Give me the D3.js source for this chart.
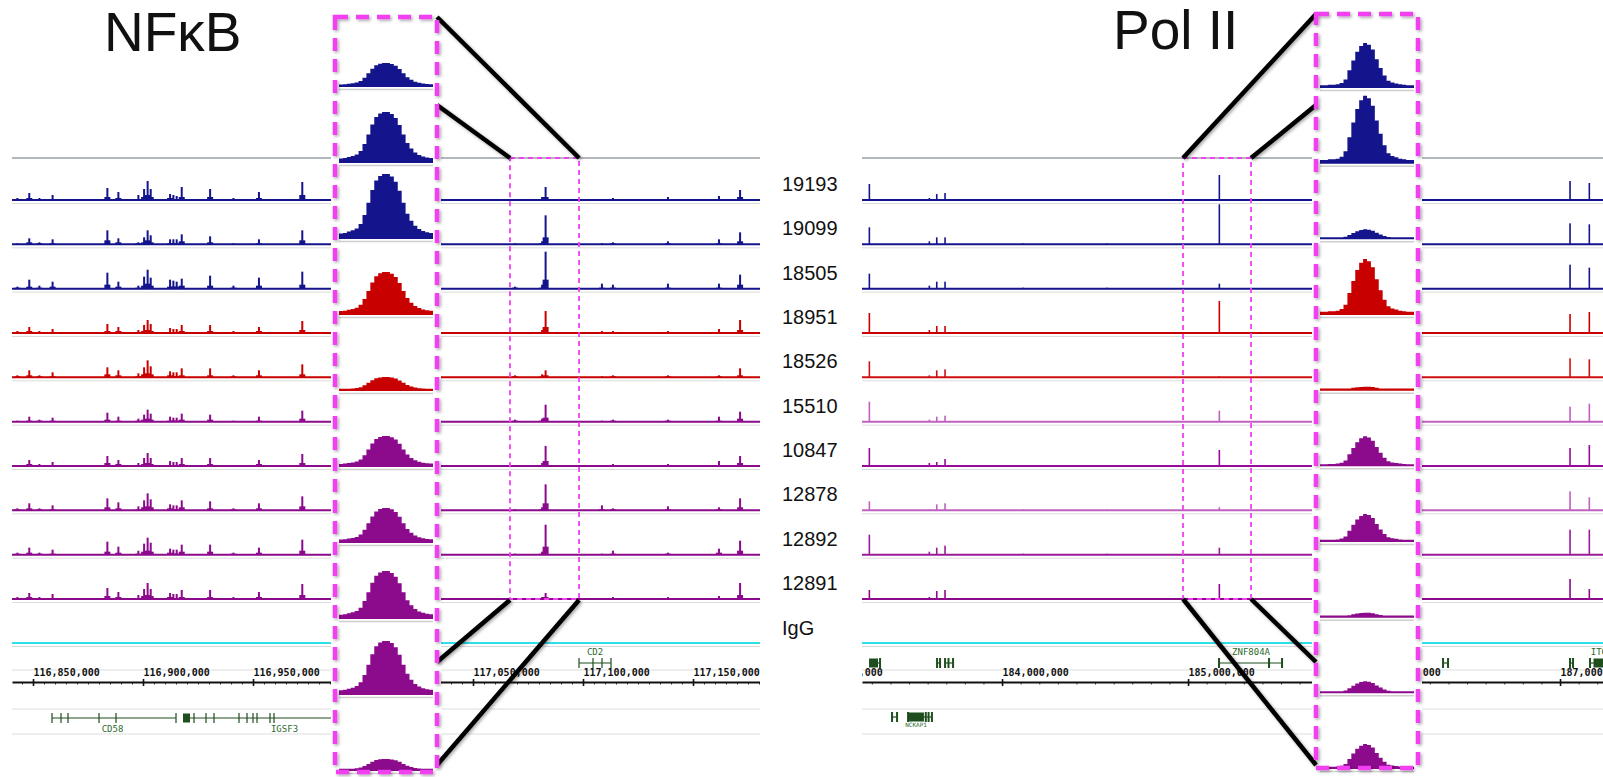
<!DOCTYPE html>
<html>
<head>
<meta charset="utf-8">
<script src="https://cdn.jsdelivr.net/npm/d3@7"></script>
<style>
  body { margin: 0; background: #fff; }
  svg { display: block; }
</style>
</head>
<body>
<svg id="fig" width="1603" height="777"></svg>
<script>
// ---- data ----
var tracks = ["19193", "19099", "18505", "18951", "18526", "15510", "10847", "12878", "12892", "12891"];
var trackColors = ["#14148c", "#14148c", "#14148c", "#c80000", "#c80000", "#8c0a8c", "#8c0a8c", "#8c0a8c", "#8c0a8c", "#8c0a8c"];
var pol2Colors = ["#14148c", "#14148c", "#14148c", "#c80000", "#d01010", "#c060c0", "#9a0a9a", "#c060c0", "#9a1a9a", "#8c0a8c"];

// NFkB window, peak positions (bp) and heights per sample
var nfkbPos = [116842900, 116848300, 116852900, 116858900, 116883800, 116888800, 116897900, 116900500,
  116902100, 116903500, 116912300, 116913800, 116915300, 116917600, 116930500, 116941100, 116952700,
  116972400, 117069100, 117081400, 117083000, 117108600, 117113600, 117138600, 117161800, 117171400];
var nfkbHeights = [
  [2, 7, 2, 5, 12, 8, 5, 11, 19, 11, 6, 5, 4, 13, 11, 2, 8, 18, 1, 3, 13, 1, 2, 3, 4, 10],
  [1, 6, 2, 5, 14, 6, 2, 7, 14, 9, 5, 5, 5, 10, 8, 1, 5, 14, 1, 3, 29, 1, 2, 3, 5, 12],
  [2, 9, 3, 7, 16, 7, 3, 12, 19, 11, 9, 8, 7, 10, 13, 3, 11, 17, 2, 4, 37, 5, 4, 5, 5, 14],
  [2, 6, 2, 4, 9, 6, 3, 8, 13, 9, 5, 4, 4, 8, 8, 2, 6, 12, 1, 3, 22, 2, 2, 2, 4, 13],
  [2, 7, 2, 5, 10, 7, 4, 10, 17, 11, 6, 5, 5, 9, 9, 2, 7, 13, 2, 3, 7, 1, 2, 2, 2, 9],
  [1, 5, 2, 4, 9, 5, 3, 7, 12, 8, 5, 4, 4, 8, 7, 1, 5, 11, 2, 3, 17, 1, 2, 2, 5, 10],
  [1, 6, 2, 4, 10, 6, 3, 8, 13, 8, 5, 4, 4, 8, 8, 1, 6, 12, 1, 3, 20, 1, 2, 2, 5, 10],
  [2, 7, 2, 5, 12, 8, 4, 10, 17, 11, 6, 5, 5, 10, 9, 2, 7, 14, 1, 3, 26, 5, 2, 4, 3, 12],
  [2, 7, 2, 5, 13, 8, 4, 11, 17, 12, 6, 5, 5, 10, 10, 2, 7, 15, 1, 3, 30, 1, 4, 2, 6, 14],
  [2, 6, 2, 5, 11, 7, 4, 10, 16, 10, 6, 5, 5, 9, 9, 2, 7, 15, 1, 2, 6, 1, 2, 2, 3, 16]
];

// Pol II window
var pol2Pos = [183286600, 183609100, 183648900, 183693500, 184112900, 184564500, 185168300, 187053800, 187157500];
var pol2Heights = [
  [16, 2, 6, 7, 1, 1, 25, 19, 17],
  [17, 3, 7, 7, 1, 1, 40, 21, 20],
  [15, 3, 7, 7, 1, 1, 5, 24, 21],
  [20, 3, 7, 7, 1, 1, 32, 19, 21],
  [16, 2, 7, 8, 0, 0, 1, 19, 18],
  [20, 2, 5, 6, 0, 0, 11, 15, 18],
  [18, 3, 4, 7, 0, 0, 16, 18, 21],
  [9, 1, 6, 7, 1, 1, 3, 19, 13],
  [20, 3, 7, 9, 1, 1, 7, 25, 25],
  [9, 2, 8, 9, 1, 1, 15, 20, 10]
];

// zoomed-in peak heights (insets) and peak profiles
var nfkbInset = [23, 50, 64, 42, 13, 30, 34, 47, 53, 11];
var pol2Inset = [44, 67, 9, 55, 3, 29, 27, 4, 11, 24];
var nfkbProfile = [0.07, 0.08, 0.10, 0.12, 0.15, 0.22, 0.36, 0.55, 0.75, 0.90, 0.97, 1.0,
  1.0, 0.96, 0.88, 0.74, 0.55, 0.38, 0.27, 0.19, 0.14, 0.11, 0.09, 0.08];
var pol2Profile = [0.04, 0.04, 0.05, 0.05, 0.06, 0.09, 0.17, 0.38, 0.60, 0.80, 0.93, 1.0,
  0.96, 0.85, 0.63, 0.43, 0.26, 0.14, 0.10, 0.08, 0.06, 0.05, 0.04, 0.04];

// zoom windows (bp) shown in the insets
var nfkbWindow = [117066800, 117098200];
var pol2Window = [184973000, 185338700];

var nfkbTicks = [116850000, 116900000, 116950000, 117000000, 117050000, 117100000, 117150000];
var pol2Ticks = [183000000, 184000000, 185000000, 186000000, 187000000];

var nfkbGenes = [
  {name: "CD58", row: 1, start: 116858636, end: 116915000, label: 116886136, blocks: [],
   exons: [116858636, 116862727, 116865909, 116880000, 116887727, 116915000]},
  {name: "IGSF3", row: 1, start: 116918182, end: 117000000, label: 116964318, blocks: [[116918182, 116921364]],
   exons: [116923182, 116928636, 116932273, 116943636, 116947273, 116950000, 116951818, 116957727, 116959545]},
  {name: "CD2", row: 0, start: 117098182, end: 117112727, label: 117105455, blocks: [],
   exons: [117098182, 117104545, 117108636, 117112727]}
];
var pol2Genes = [
  {name: "", row: 0, start: 183284946, end: 183344086, blocks: [[183284946, 183333000]], exons: [183344086]},
  {name: "", row: 0, start: 183650538, end: 183666667, blocks: [], exons: [183650538, 183666667]},
  {name: "", row: 0, start: 183693548, end: 183736559, blocks: [], exons: [183693548, 183712000, 183736559]},
  {name: "ZNF804A", row: 0, start: 185166667, end: 185505376, label: 185338710, blocks: [],
   exons: [185166667, 185435484, 185505376]},
  {name: "", row: 0, start: 186370968, end: 186397849, blocks: [], exons: [186370968, 186397849]},
  {name: "", row: 0, start: 187053763, end: 187069892, blocks: [], exons: [187053763, 187069892]},
  {name: "ITGAV", row: 0, start: 187161290, end: 187240000, label: 187238000, blocks: [[187180000, 187240000]],
   exons: [187161290]},
  {name: "", row: 1, start: 183408602, end: 183435484, blocks: [], exons: [183408602, 183435484]},
  {name: "NCKAP1", row: 1, start: 183494624, end: 183623000, label: 183537634, blocks: [[183494624, 183580000]],
   exons: [183494624, 183590000, 183605000, 183623000]}
];

// ---- drawing ----
var svg = d3.select("#fig");
var defs = svg.append("defs");
var f = defs.append("filter").attr("id", "shadow").attr("x", "-20%").attr("y", "-20%")
  .attr("width", "140%").attr("height", "140%");
f.append("feDropShadow").attr("dx", 1.5).attr("dy", 1.5).attr("stdDeviation", 1.5)
  .attr("flood-color", "#000").attr("flood-opacity", 0.35);

var trackY = d3.scaleLinear().domain([0, 9]).range([200, 599]);
var sig = d3.scaleLinear().domain([0, 40]).range([0, 40]);
var igY = 643;

function panel(opt) {
  var x = d3.scaleLinear().domain(opt.domain).range(opt.range);
  defs.append("clipPath").attr("id", opt.id + "clip").append("rect")
    .attr("x", opt.range[0]).attr("y", 0).attr("width", opt.range[1] - opt.range[0]).attr("height", 777);
  var g = svg.append("g").attr("clip-path", "url(#" + opt.id + "clip)");
  var x0 = opt.range[0], x1 = opt.range[1];

  // top rule
  g.append("line").attr("x1", x0).attr("x2", x1).attr("y1", 158).attr("y2", 158)
    .attr("stroke", "#9aa0a6").attr("stroke-width", 1.3);

  tracks.forEach(function(t, i) {
    var base = trackY(i), col = opt.colors[i];
    var tg = g.append("g");
    tg.append("line").attr("x1", x0).attr("x2", x1).attr("y1", base + 3.5).attr("y2", base + 3.5)
      .attr("stroke", "#dcdcdc").attr("stroke-width", 1);
    tg.append("line").attr("x1", x0).attr("x2", x1).attr("y1", base).attr("y2", base)
      .attr("stroke", col).attr("stroke-width", 2);
    var hs = opt.heights[i];
    if (opt.shoulder) {
      tg.selectAll("rect.sh").data(opt.pos).enter().append("rect").attr("class", "sh")
        .attr("x", function(d) { return x(d) - 3; }).attr("width", 6)
        .attr("y", function(d, j) { return base - Math.round(sig(hs[j]) * 0.25); })
        .attr("height", function(d, j) { return Math.round(sig(hs[j]) * 0.25); })
        .attr("fill", col);
    }
    tg.selectAll("rect.sp").data(opt.pos).enter().append("rect").attr("class", "sp")
      .attr("x", function(d) { return x(d) - opt.spikeW / 2; }).attr("width", opt.spikeW)
      .attr("y", function(d, j) { return base - sig(hs[j]); })
      .attr("height", function(d, j) { return sig(hs[j]); })
      .attr("fill", col);
  });

  // IgG
  g.append("line").attr("x1", x0).attr("x2", x1).attr("y1", igY + 3.5).attr("y2", igY + 3.5)
    .attr("stroke", "#d8d8d8").attr("stroke-width", 1);
  g.append("line").attr("x1", x0).attr("x2", x1).attr("y1", igY).attr("y2", igY)
    .attr("stroke", "#2ee0e8").attr("stroke-width", 2.2);

  // ruler
  [670, 709, 734].forEach(function(yy) {
    g.append("line").attr("x1", x0).attr("x2", x1).attr("y1", yy).attr("y2", yy)
      .attr("stroke", "#dddddd").attr("stroke-width", 1);
  });
  var minor = d3.range(opt.domain[0] - opt.domain[0] % opt.minorStep, opt.domain[1], opt.minorStep);
  g.append("g").attr("transform", "translate(0,682)")
    .call(d3.axisBottom(x).tickValues(minor).tickSize(2.5).tickFormat(""))
    .call(function(a) { a.select(".domain").remove(); a.selectAll("line").attr("stroke", "#333"); });
  var ax = g.append("g").attr("transform", "translate(0,682)")
    .call(d3.axisBottom(x).tickValues(opt.ticks).tickSizeOuter(0).tickFormat(d3.format(",")));
  ax.select(".domain").attr("stroke", "#111").attr("stroke-width", 2);
  ax.selectAll(".tick line").attr("y1", -3).attr("y2", 4).attr("stroke", "#111").attr("stroke-width", 1.6);
  ax.selectAll(".tick text").attr("y", -6).attr("dy", 0).attr("text-anchor", "start")
    .attr("font-family", "DejaVu Sans Mono, monospace").attr("font-weight", "bold")
    .attr("font-size", 10).attr("fill", "#111");

  // genes
  var rowY = [663, 718];
  opt.genes.forEach(function(gn) {
    var yy = rowY[gn.row] - (opt.id === "p2" && gn.row === 1 ? 1 : 0);
    var gg = g.append("g").attr("fill", "#1e4d1e").attr("stroke", "#1e4d1e");
    gg.append("line").attr("x1", x(gn.start)).attr("x2", x(gn.end)).attr("y1", yy).attr("y2", yy)
      .attr("stroke-width", 1.2);
    gg.selectAll("line.ex").data(gn.exons).enter().append("line").attr("class", "ex")
      .attr("x1", function(d) { return x(d); }).attr("x2", function(d) { return x(d); })
      .attr("y1", yy - 5).attr("y2", yy + 5).attr("stroke-width", opt.exonW);
    gg.selectAll("rect").data(gn.blocks).enter().append("rect")
      .attr("x", function(d) { return x(d[0]); })
      .attr("width", function(d) { return Math.max(2, x(d[1]) - x(d[0])); })
      .attr("y", yy - 4.5).attr("height", 9).attr("stroke", "none");
    if (gn.name) {
      var small = gn.name === "NCKAP1";
      g.append("text").attr("x", x(gn.label)).attr("y", gn.row === 0 ? yy - 8 : yy + (small ? 10 : 14))
        .attr("text-anchor", "middle").attr("font-family", "DejaVu Sans Mono, monospace")
        .attr("font-size", small ? 6 : 9).attr("fill", "#2e6a2e").text(gn.name);
    }
  });
  return x;
}

var xl = panel({id: "p1", domain: [116840450, 117180450], range: [12, 760], pos: nfkbPos,
  heights: nfkbHeights, colors: trackColors, ticks: nfkbTicks, minorStep: 5000, genes: nfkbGenes,
  spikeW: 2, shoulder: true, exonW: 1.2});
var xr = panel({id: "p2", domain: [183247000, 187231000], range: [862, 1603], pos: pol2Pos,
  heights: pol2Heights, colors: pol2Colors, ticks: pol2Ticks, minorStep: 100000, genes: pol2Genes,
  spikeW: 1.6, shoulder: false, exonW: 2});

// sample labels
svg.append("g").selectAll("text").data(tracks.concat(["IgG"])).enter().append("text")
  .attr("x", 782).attr("y", function(d, i) { return i < 10 ? trackY(i) - 9 : igY - 8; })
  .attr("font-family", "Liberation Sans, Arial, sans-serif").attr("font-size", 20).attr("fill", "#111")
  .text(function(d) { return d; });

// titles
svg.append("text").attr("x", 104).attr("y", 51).attr("font-family", "Liberation Sans, Arial, sans-serif")
  .attr("font-size", 55).attr("fill", "#111").text("NF\u03baB");
svg.append("text").attr("x", 1113).attr("y", 49).attr("font-family", "Liberation Sans, Arial, sans-serif")
  .attr("font-size", 55).attr("fill", "#111").text("Pol II");

// zoom boxes in the main panels
var magenta = "#f040f0";
[[xl, nfkbWindow], [xr, pol2Window]].forEach(function(b) {
  svg.append("rect").attr("x", b[0](b[1][0])).attr("y", 158).attr("width", b[0](b[1][1]) - b[0](b[1][0]))
    .attr("height", 441).attr("fill", "none").attr("stroke", magenta).attr("stroke-width", 1.8)
    .attr("stroke-dasharray", "5,4");
});

function inset(opt) {
  svg.append("rect").attr("x", opt.wx).attr("y", 0).attr("width", opt.ww).attr("height", 777).attr("fill", "#fff");
  var ix = d3.scaleLinear().domain([0, opt.profile.length]).range(opt.xr);
  var iy = d3.scaleLinear().domain([0, 9]).range(opt.yr);
  var pts = opt.profile.concat([opt.profile[opt.profile.length - 1]]);
  opt.heights.forEach(function(h, i) {
    var base = iy(i);
    svg.append("line").attr("x1", opt.xr[0]).attr("x2", opt.xr[1]).attr("y1", base + 3.5).attr("y2", base + 3.5)
      .attr("stroke", "#cfcfcf").attr("stroke-width", 1.5);
    var area = d3.area().curve(d3.curveStepAfter)
      .x(function(d, j) { return ix(j); })
      .y0(base + 1).y1(function(d) { return base - Math.max(1.2, d * h); });
    svg.append("path").attr("d", area(pts)).attr("fill", trackColors[i]);
  });
  // connectors
  opt.lines.forEach(function(l) {
    svg.append("line").attr("x1", l[0]).attr("y1", l[1]).attr("x2", l[2]).attr("y2", l[3])
      .attr("stroke", "#000").attr("stroke-width", 4.5).attr("filter", "url(#shadow)");
  });
  svg.append("rect").attr("x", opt.box[0]).attr("y", opt.box[1]).attr("width", opt.box[2]).attr("height", opt.box[3])
    .attr("fill", "none").attr("stroke", magenta).attr("stroke-width", 4.5).attr("stroke-dasharray", "13,8")
    .attr("filter", "url(#shadow)");
}

var l0 = xl(nfkbWindow[0]), l1 = xl(nfkbWindow[1]);
inset({wx: 331, ww: 110, xr: [339, 433], yr: [86, 770], heights: nfkbInset, profile: nfkbProfile,
  box: [335, 17, 102, 755],
  lines: [[437, 17, l1, 158], [437, 105, l0, 158], [l0, 600, 437, 662], [l1, 600, 437, 765]]});
var r0 = xr(pol2Window[0]), r1 = xr(pol2Window[1]);
inset({wx: 1312, ww: 110, xr: [1320, 1414], yr: [87, 768], heights: pol2Inset, profile: pol2Profile,
  box: [1316, 14, 102, 754],
  lines: [[r0, 158, 1316, 14], [r1, 158, 1316, 105], [r0, 599, 1316, 765], [r1, 599, 1316, 662]]});
</script>
</body>
</html>
